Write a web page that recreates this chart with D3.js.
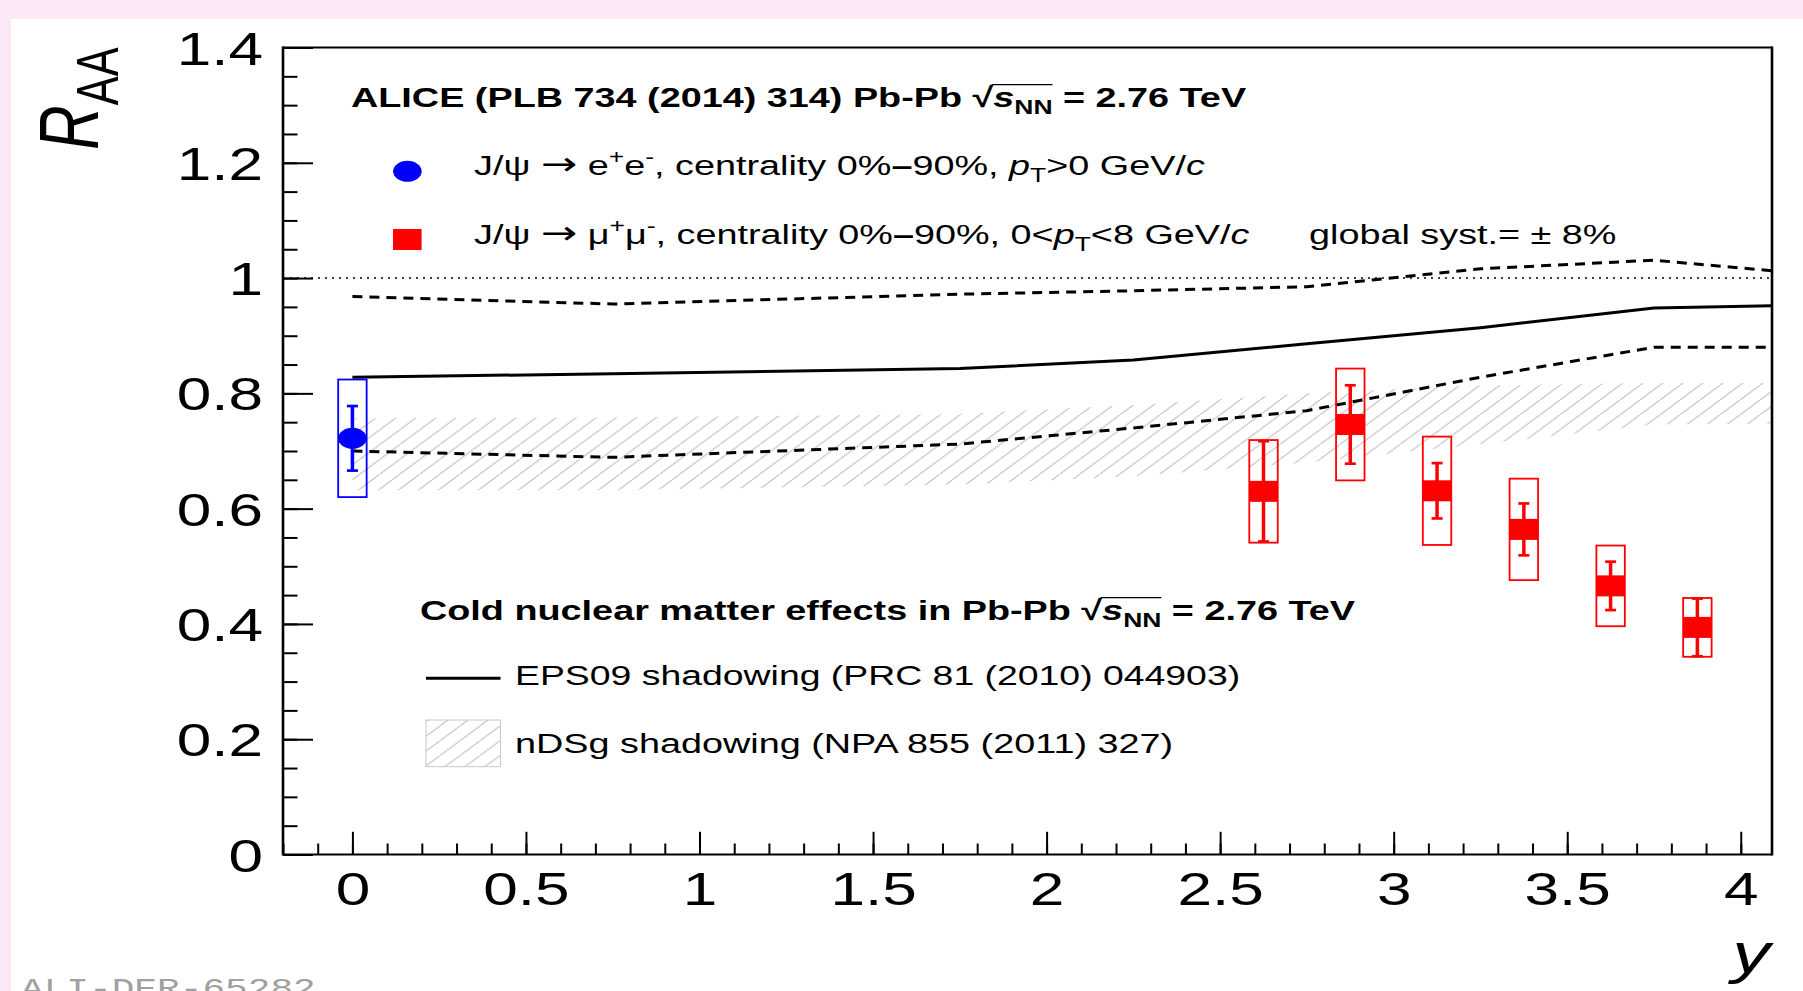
<!DOCTYPE html>
<html>
<head>
<meta charset="utf-8">
<script src="https://cdn.jsdelivr.net/npm/d3@7"></script>
<style>
  html, body { margin: 0; padding: 0; background: #fce9f7; }
  svg { display: block; }
  text { white-space: pre; }
</style>
</head>
<body>
<div id="chart"></div>
<script>
// ---- data ----
const xTickValues = [0, 0.5, 1, 1.5, 2, 2.5, 3, 3.5, 4];
const xTickLabels = ["0", "0.5", "1", "1.5", "2", "2.5", "3", "3.5", "4"];
const yTickValues = [0, 0.2, 0.4, 0.6, 0.8, 1, 1.2, 1.4];
const yTickLabels = ["0", "0.2", "0.4", "0.6", "0.8", "1", "1.2", "1.4"];

// J/psi -> e+e-, mid rapidity
const eeRapidity = [0];
const eeRaa = [0.722];
const eeStat = [0.056];
const eeSyst = [0.102];

// J/psi -> mu+mu-, forward rapidity
const mmRapidity = [2.625, 2.875, 3.125, 3.375, 3.625, 3.875];
const mmRaa = [0.630, 0.746, 0.631, 0.564, 0.466, 0.394];
const mmStat = [0.087, 0.068, 0.048, 0.045, 0.042, 0.050];
const mmSyst = [0.089, 0.097, 0.094, 0.088, 0.070, 0.051];
const boxHalfWidth = 0.041;

// cold nuclear matter models
const theoryRapidity = [0, 0.75, 1.75, 2.25, 2.75, 3.25, 3.75, 4.25];
const eps09Central = [0.828, 0.834, 0.843, 0.858, 0.886, 0.914, 0.948, 0.954];
const eps09Upper   = [0.968, 0.955, 0.972, 0.978, 0.985, 1.016, 1.031, 1.004];
const eps09Lower   = [0.700, 0.689, 0.712, 0.740, 0.770, 0.828, 0.880, 0.880];
const ndsgUpper    = [0.757, 0.758, 0.764, 0.780, 0.800, 0.814, 0.818, 0.818];
const ndsgLower    = [0.632, 0.632, 0.642, 0.656, 0.680, 0.712, 0.746, 0.748];

// ---- setup ----
const W = 1803, H = 991;
const SX = 1.35;               // the original picture is stretched sideways
const FONT = "'Liberation Sans', Arial, Helvetica, sans-serif";

const svg = d3.select("#chart").append("svg")
    .attr("width", W).attr("height", H);

svg.append("rect")
    .attr("x", 11).attr("y", 19)
    .attr("width", W - 11).attr("height", H - 19)
    .attr("fill", "#fff");

const x = d3.scaleLinear().domain([-0.2, 4.09]).range([283, 1772]);
const y = d3.scaleLinear().domain([0, 1.4]).range([854.5, 47.5]);

const defs = svg.append("defs");
defs.append("clipPath").attr("id", "frame-clip")
  .append("rect")
    .attr("x", x(-0.2)).attr("y", y(1.4))
    .attr("width", x(4.09) - x(-0.2)).attr("height", y(0) - y(1.4));

const hatch = defs.append("pattern")
    .attr("id", "hatch")
    .attr("patternUnits", "userSpaceOnUse")
    .attr("width", 20).attr("height", 20 / SX);
hatch.append("path")
    .attr("d", `M-2,${20 / SX + 2 / SX} L22,${-2 / SX}`)
    .attr("stroke", "#c4c4c4").attr("stroke-width", 1.2);

// ---- little latex-ish text helper ----
function parseLatex(str) {
  const out = [];
  const re = /(\^|_|#it|#bf|#sym)\{([^}]*)\}/g;
  let last = 0, m;
  while ((m = re.exec(str))) {
    if (m.index > last) out.push({t: str.slice(last, m.index)});
    out.push({t: m[2], sup: m[1] === "^", sub: m[1] === "_", it: m[1] === "#it",
              bf: m[1] === "#bf", sym: m[1] === "#sym"});
    last = re.lastIndex;
  }
  if (last < str.length) out.push({t: str.slice(last)});
  return out;
}

function latex(parent, px, py, str, size, opt = {}) {
  const g = parent.append("g")
      .attr("transform", `translate(${px},${py}) scale(${SX},1)` + (opt.rotate ? ` rotate(${opt.rotate})` : ""));
  const t = g.append("text")
      .attr("font-family", opt.family || FONT)
      .attr("font-size", size)
      .attr("font-weight", opt.bold ? "bold" : null)
      .attr("font-style", opt.italic ? "italic" : null)
      .attr("text-anchor", opt.anchor || "start")
      .attr("fill", opt.color || "#000");
  let level = 0;
  parseLatex(str).forEach(s => {
    const target = s.sup ? -0.38 * size : s.sub ? 0.24 * size : 0;
    const sp = t.append("tspan").text(s.t);
    if (target !== level) { sp.attr("dy", target - level); level = target; }
    if (s.sup || s.sub) sp.attr("font-size", size * 0.7);
    if (s.it) sp.attr("font-style", "italic");
    if (s.bf) sp.attr("font-weight", "bold");
    if (s.sym) sp.attr("font-family", "'DejaVu Sans', sans-serif").attr("font-size", size * 1.15);
  });
  // bar over the radical
  const node = t.node(), txt = node.textContent, i = txt.indexOf("√");
  if (i >= 0) {
    const j = txt.indexOf("NN", i) + 1;
    const xs = node.getEndPositionOfChar(i).x - size * 0.04;
    const xe = node.getEndPositionOfChar(j).x;
    g.append("line")
        .attr("x1", xs).attr("x2", xe)
        .attr("y1", -size * 0.8).attr("y2", -size * 0.8)
        .attr("stroke", "#000").attr("stroke-width", 1.2);
  }
  return g;
}

// ---- nDSg band ----
const theory = theoryRapidity.map((r, i) => ({
  r, c: eps09Central[i], hi: eps09Upper[i], lo: eps09Lower[i], nHi: ndsgUpper[i], nLo: ndsgLower[i]
}));

const plot = svg.append("g").attr("clip-path", "url(#frame-clip)");

plot.append("path")
    .datum(theory)
    .attr("fill", "url(#hatch)")
    .attr("d", d3.area().x(d => x(d.r)).y0(d => y(d.nLo)).y1(d => y(d.nHi)));

// unity line
plot.append("line")
    .attr("x1", x(-0.2)).attr("x2", x(4.09))
    .attr("y1", y(1)).attr("y2", y(1))
    .attr("stroke", "#000").attr("stroke-width", 1.5)
    .attr("stroke-dasharray", "2,5");

// EPS09 curves
const curve = key => d3.line().x(d => x(d.r)).y(d => y(d[key]));
plot.append("path").datum(theory)
    .attr("fill", "none").attr("stroke", "#000").attr("stroke-width", 3)
    .attr("d", curve("c"));
["hi", "lo"].forEach(k => {
  plot.append("path").datum(theory)
      .attr("fill", "none").attr("stroke", "#000").attr("stroke-width", 3)
      .attr("stroke-dasharray", "10,7")
      .attr("d", curve(k));
});

// ---- data points ----
function drawPoints(rap, raa, stat, syst, color, marker) {
  const pts = rap.map((r, i) => ({r, v: raa[i], st: stat[i], sy: syst[i]}));
  const g = svg.append("g").selectAll("g").data(pts).enter().append("g");
  g.append("rect")
      .attr("x", d => x(d.r - boxHalfWidth))
      .attr("width", d => x(d.r + boxHalfWidth) - x(d.r - boxHalfWidth))
      .attr("y", d => y(d.v + d.sy))
      .attr("height", d => y(d.v - d.sy) - y(d.v + d.sy))
      .attr("fill", "none").attr("stroke", color).attr("stroke-width", 1.8);
  g.append("line")
      .attr("x1", d => x(d.r)).attr("x2", d => x(d.r))
      .attr("y1", d => y(d.v + d.st)).attr("y2", d => y(d.v - d.st))
      .attr("stroke", color).attr("stroke-width", 3.5);
  [1, -1].forEach(s => {
    g.append("line")
        .attr("x1", d => x(d.r) - 5.5).attr("x2", d => x(d.r) + 5.5)
        .attr("y1", d => y(d.v + s * d.st)).attr("y2", d => y(d.v + s * d.st))
        .attr("stroke", color).attr("stroke-width", 2.7);
  });
  if (marker === "circle") {
    g.append("ellipse")
        .attr("cx", d => x(d.r)).attr("cy", d => y(d.v))
        .attr("rx", 14.3).attr("ry", 10.5).attr("fill", color);
  } else {
    g.append("rect")
        .attr("x", d => x(d.r) - 14.3).attr("y", d => y(d.v) - 10.5)
        .attr("width", 28.6).attr("height", 21).attr("fill", color);
  }
}
drawPoints(eeRapidity, eeRaa, eeStat, eeSyst, "#0000ff", "circle");
drawPoints(mmRapidity, mmRaa, mmStat, mmSyst, "#ff0000", "square");

// ---- axes ----
const axisStyle = g => {
  g.select(".domain").remove();
  g.selectAll(".tick line").attr("stroke", "#000").attr("stroke-width", 2);
};

const yAxis = svg.append("g").attr("transform", `translate(${x(-0.2)},0)`);
yAxis.append("g")
    .call(d3.axisLeft(y).tickValues(y.ticks(28)).tickSize(-14.5).tickFormat(""))
    .call(axisStyle);
yAxis.append("g")
    .call(d3.axisLeft(y).tickValues(yTickValues).tickSize(-30).tickPadding(20)
        .tickFormat((d, i) => yTickLabels[i]))
    .call(axisStyle)
    .call(g => g.selectAll(".tick text")
        .attr("font-family", FONT).attr("font-size", 46).attr("fill", "#000")
        .attr("x", -20 / SX).attr("dy", "0.36em")
        .attr("transform", `scale(${SX},1)`));

const xAxis = svg.append("g").attr("transform", `translate(0,${y(0)})`);
xAxis.append("g")
    .call(d3.axisBottom(x).tickValues(x.ticks(43)).tickSize(-11).tickFormat(""))
    .call(axisStyle);
xAxis.append("g")
    .call(d3.axisBottom(x).tickValues(xTickValues).tickSize(-22.7)
        .tickFormat((d, i) => xTickLabels[i]))
    .call(axisStyle)
    .call(g => g.selectAll(".tick text")
        .attr("font-family", FONT).attr("font-size", 46).attr("fill", "#000")
        .attr("y", 50.5).attr("dy", null)
        .attr("transform", `scale(${SX},1)`));

// frame
const fx0 = x(-0.2), fx1 = x(4.09), fy0 = y(1.4), fy1 = y(0);
svg.append("path")
    .attr("d", `M${fx0},${fy0}H${fx1}M${fx0},${fy1}H${fx1}`)
    .attr("stroke", "#000").attr("stroke-width", 2).attr("fill", "none");
svg.append("path")
    .attr("d", `M${fx0},${fy0 - 1}V${fy1 + 1}M${fx1},${fy0 - 1}V${fy1 + 1}`)
    .attr("stroke", "#000").attr("stroke-width", 2.6).attr("fill", "none");

// axis titles
latex(svg, 97.6, 150, "#it{R}_{AA}", 62, {rotate: -90});
latex(svg, 1770, 972, "y", 56, {italic: true, anchor: "end"});

// ---- legends ----
latex(svg, 351, 107, "ALICE (PLB 734 (2014) 314) Pb-Pb √#it{s}_{NN} = 2.76 TeV", 28, {bold: true});

svg.append("ellipse").attr("cx", 407.4).attr("cy", 171.3).attr("rx", 14.3).attr("ry", 10.5).attr("fill", "#0000ff");
latex(svg, 474, 175, "J/ψ #sym{→} e^{+}e^{-}, centrality 0%#bf{–}90%, #it{p}_{T}>0 GeV/#it{c}", 28);

svg.append("rect").attr("x", 393).attr("y", 229).attr("width", 28.6).attr("height", 21).attr("fill", "#ff0000");
latex(svg, 474, 244, "J/ψ #sym{→} μ^{+}μ^{-}, centrality 0%#bf{–}90%, 0<#it{p}_{T}<8 GeV/#it{c}", 28);
latex(svg, 1309, 244, "global syst.= ± 8%", 28);

latex(svg, 420, 620, "Cold nuclear matter effects in Pb-Pb √#it{s}_{NN} = 2.76 TeV", 28, {bold: true});

svg.append("line").attr("x1", 426).attr("x2", 500.5).attr("y1", 678.3).attr("y2", 678.3)
    .attr("stroke", "#000").attr("stroke-width", 3);
latex(svg, 515, 685, "EPS09 shadowing (PRC 81 (2010) 044903)", 27.7);

svg.append("rect").attr("x", 426).attr("y", 720).attr("width", 74.5).attr("height", 46.7)
    .attr("fill", "url(#hatch)").attr("stroke", "#c8c8c8").attr("stroke-width", 1);
latex(svg, 515, 752.5, "nDSg shadowing (NPA 855 (2011) 327)", 28);

// figure id
latex(svg, 21, 997, "ALI-DER-65282", 28, {family: "'Liberation Mono', 'Courier New', monospace", color: "#a0a0a0"});
</script>
</body>
</html>
